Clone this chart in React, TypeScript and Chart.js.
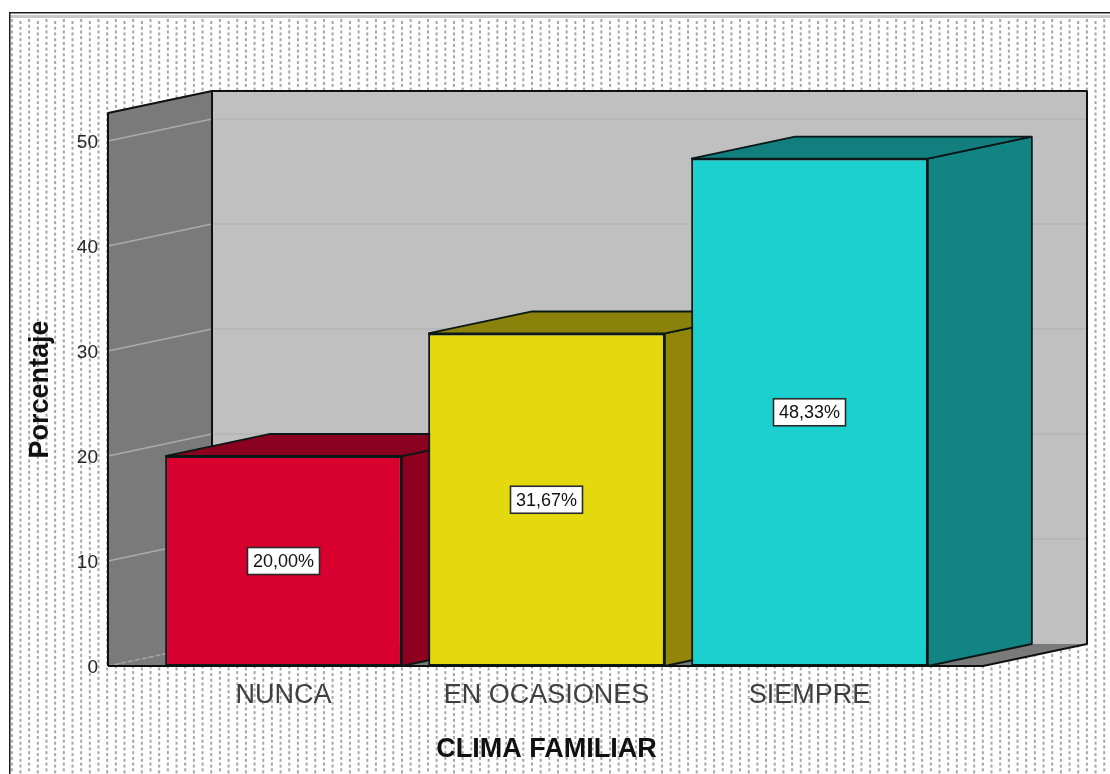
import React, { useEffect, useRef } from "react";
import { Chart, registerables } from "chart.js";

Chart.register(...registerables);

const categories = ["NUNCA", "EN OCASIONES", "SIEMPRE"];
const percentages = [20.0, 31.67, 48.33];
const faceColors = ["#D7002E", "#E3D90E", "#1CD0CF"];
const sideColors = ["#8F0020", "#91860A", "#128483"];
const topColors = ["#8A001F", "#8B820B", "#127F7E"];
const yTicks = [0, 10, 20, 30, 40, 50];
const yTitle = "Porcentaje";
const xTitle = "CLIMA FAMILIAR";

const DX = 104;
const DY = -22;
const EDGE = "#0a1818";

function poly(ctx: CanvasRenderingContext2D, pts: number[][], fill: string | null, stroke: string | null, lw = 1.8) {
  ctx.beginPath();
  pts.forEach((p, i) => (i ? ctx.lineTo(p[0], p[1]) : ctx.moveTo(p[0], p[1])));
  ctx.closePath();
  if (fill) {
    ctx.fillStyle = fill;
    ctx.fill();
  }
  if (stroke) {
    ctx.strokeStyle = stroke;
    ctx.lineWidth = lw;
    ctx.lineJoin = "bevel";
    ctx.stroke();
  }
}

const backdropPlugin = {
  id: "backdrop",
  beforeDraw(chart: any) {
    const { ctx, width, height } = chart;
    ctx.save();
    ctx.fillStyle = "#ffffff";
    ctx.fillRect(0, 0, width, height);
    // stippled panel
    ctx.fillStyle = "#a6a6a6";
    const stepX = 8.67;
    const stepY = 5.72;
    let col = 0;
    for (let x = 10.8; x < width; x += stepX, col++) {
      for (let y = 19 + (col % 2 ? 2 : 0); y < height; y += stepY) {
        ctx.fillRect(x, y, 2, 3);
      }
    }
    // panel frame
    ctx.fillStyle = "#c8c8c8";
    ctx.fillRect(10, 15, width - 10, 3);
    ctx.fillStyle = "#1c1c1c";
    ctx.fillRect(9, 12, width - 9, 1.5);
    ctx.fillRect(9, 12, 1.5, height - 12);
    ctx.restore();
  },
  beforeDatasetsDraw(chart: any) {
    const { ctx, chartArea } = chart;
    const y = chart.scales.y;
    const L = chartArea.left - 44;
    const R = chartArea.right + 42;
    const T = chartArea.top;
    const B = chartArea.bottom;
    ctx.save();
    // back wall, left wall, floor
    poly(ctx, [[L + DX, T + DY], [R + DX, T + DY], [R + DX, B + DY], [L + DX, B + DY]], "#C0C0C0", null);
    poly(ctx, [[L, B], [R, B], [R + DX, B + DY], [L + DX, B + DY]], "#7A7A7A", null);
    poly(ctx, [[L, T], [L + DX, T + DY], [L + DX, B + DY], [L, B]], "#7A7A7A", null);
    // gridlines
    yTicks.forEach((t) => {
      const py = y.getPixelForValue(t);
      if (t === 0) {
        ctx.setLineDash([4, 3]);
        ctx.strokeStyle = "#a8a8a8";
        ctx.lineWidth = 1.5;
        ctx.beginPath();
        ctx.moveTo(L, py);
        ctx.lineTo(L + DX, py + DY);
        ctx.stroke();
        ctx.setLineDash([]);
        return;
      }
      ctx.lineWidth = 1.5;
      ctx.strokeStyle = "#ababab";
      ctx.beginPath();
      ctx.moveTo(L, py);
      ctx.lineTo(L + DX, py + DY);
      ctx.stroke();
      ctx.lineWidth = 1;
      ctx.strokeStyle = "#afafaf";
      ctx.beginPath();
      ctx.moveTo(L + DX, py + DY);
      ctx.lineTo(R + DX, py + DY);
      ctx.stroke();
    });
    // wall outlines
    ctx.strokeStyle = "#101010";
    ctx.lineWidth = 2;
    ctx.lineJoin = "bevel";
    ctx.beginPath();
    ctx.moveTo(L, B);
    ctx.lineTo(L, T);
    ctx.lineTo(L + DX, T + DY);
    ctx.lineTo(R + DX, T + DY);
    ctx.lineTo(R + DX, B + DY);
    ctx.lineTo(R, B);
    ctx.lineTo(L, B);
    ctx.moveTo(L + DX, T + DY);
    ctx.lineTo(L + DX, B + DY);
    ctx.stroke();
    // sides and tops of the bars
    const meta = chart.getDatasetMeta(0);
    meta.data.forEach((bar: any, i: number) => {
      const half = bar.width / 2;
      const l = bar.x - half;
      const r = bar.x + half;
      const t = bar.y;
      const b = bar.base;
      poly(ctx, [[r, t], [r + DX, t + DY], [r + DX, b + DY], [r, b]], sideColors[i], EDGE);
      poly(ctx, [[l, t], [l + DX, t + DY], [r + DX, t + DY], [r, t]], topColors[i], EDGE);
    });
    ctx.restore();
  },
  afterDatasetsDraw(chart: any) {
    const { ctx } = chart;
    const meta = chart.getDatasetMeta(0);
    ctx.save();
    ctx.font = '18px "Liberation Sans", Arial, sans-serif';
    ctx.textAlign = "center";
    ctx.textBaseline = "middle";
    meta.data.forEach((bar: any, i: number) => {
      const text = percentages[i].toFixed(2).replace(".", ",") + "%";
      const cx = bar.x;
      const cy = (bar.y + bar.base) / 2;
      const w = 72;
      const h = 27;
      ctx.fillStyle = "#ffffff";
      ctx.fillRect(cx - w / 2, cy - h / 2, w, h);
      ctx.strokeStyle = "#2a2a2a";
      ctx.lineWidth = 1.6;
      ctx.strokeRect(cx - w / 2, cy - h / 2, w, h);
      ctx.fillStyle = "#111111";
      ctx.fillText(text, cx, cy + 1);
    });
    ctx.restore();
  },
};

export default function App() {
  const ref = useRef<HTMLCanvasElement | null>(null);
  useEffect(() => {
    if (!ref.current) return;
    const chart = new Chart(ref.current, {
      type: "bar",
      data: {
        labels: categories,
        datasets: [
          {
            data: percentages,
            backgroundColor: faceColors,
            borderColor: EDGE,
            borderWidth: 2,
            borderSkipped: false,
            barPercentage: 0.9,
            categoryPercentage: 1,
          },
        ],
      },
      options: {
        responsive: false,
        animation: false,
        layout: { padding: { top: 113, right: 169, left: 0, bottom: 0 } },
        plugins: { legend: { display: false }, title: { display: false }, tooltip: { enabled: false } },
        scales: {
          x: {
            grid: { display: false, drawTicks: false },
            border: { display: false },
            ticks: {
              padding: 13,
              maxRotation: 0,
              color: "#404040",
              font: { family: '"Liberation Sans", Arial, sans-serif', size: 27 },
            },
            title: {
              display: true,
              text: xTitle,
              color: "#111111",
              padding: { top: 0, bottom: 8 },
              font: { family: '"Liberation Sans", Arial, sans-serif', size: 27, weight: "bold" },
            },
            afterFit(scale: any) {
              scale.height = 108;
            },
          },
          y: {
            min: 0,
            max: 52.67,
            grid: { display: false, drawTicks: false },
            border: { display: false },
            afterBuildTicks(scale: any) {
              scale.ticks = yTicks.map((value) => ({ value }));
            },
            ticks: {
              padding: 54,
              labelOffset: 2,
              color: "#262626",
              font: { family: '"Liberation Sans", Arial, sans-serif', size: 19 },
            },
            title: {
              display: true,
              text: yTitle,
              color: "#111111",
              padding: { top: 24, bottom: 0 },
              font: { family: '"Liberation Sans", Arial, sans-serif', size: 27, weight: "bold" },
            },
            afterFit(scale: any) {
              scale.width = 152;
            },
          },
        },
      },
      plugins: [backdropPlugin],
    } as any);
    return () => chart.destroy();
  }, []);
  return (
    <div style={{ position: "fixed", left: 0, top: 0, width: 1110, height: 774 }}>
      <canvas ref={ref} width={1110} height={774} style={{ display: "block" }} />
    </div>
  );
}
